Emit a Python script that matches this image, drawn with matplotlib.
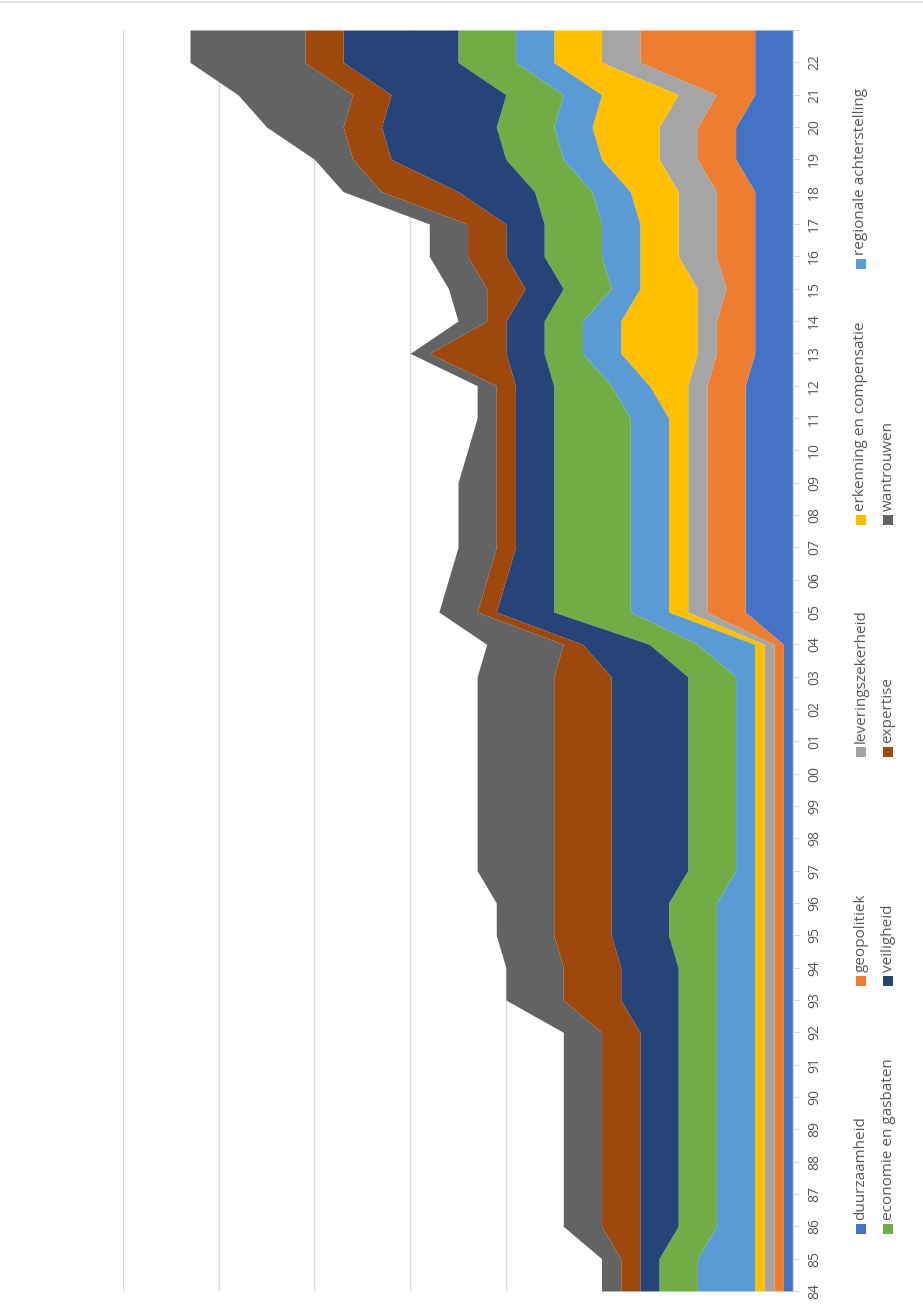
import matplotlib
matplotlib.use('Agg')
import matplotlib.pyplot as plt
from matplotlib.patches import Rectangle
from matplotlib.lines import Line2D
import numpy as np

plt.rcParams['font.family'] = ['Open Sans', 'DejaVu Sans']

# ---------------- data ----------------
years = ['84', '85', '86', '87', '88', '89', '90', '91', '92', '93', '94', '95', '96',
         '97', '98', '99', '00', '01', '02', '03', '04', '05', '06', '07', '08', '09',
         '10', '11', '12', '13', '14', '15', '16', '17', '18', '19', '20', '21', '22', '']

duurzaamheid = [1, 1, 1, 1, 1, 1, 1, 1, 1, 1, 1, 1, 1,
                1, 1, 1, 1, 1, 1, 1, 1, 5, 5, 5, 5, 5,
                5, 5, 5, 4, 4, 4, 4, 4, 4, 6, 6, 4, 4, 4]
geopolitiek = [1, 1, 1, 1, 1, 1, 1, 1, 1, 1, 1, 1, 1,
               1, 1, 1, 1, 1, 1, 1, 1, 4, 4, 4, 4, 4,
               4, 4, 4, 4, 4, 3, 4, 4, 4, 4, 4, 4, 12, 12]
leveringszekerheid = [1, 1, 1, 1, 1, 1, 1, 1, 1, 1, 1, 1, 1,
                      1, 1, 1, 1, 1, 1, 1, 1, 2, 2, 2, 2, 2,
                      2, 2, 2, 2, 2, 3, 4, 4, 4, 4, 4, 4, 4, 4]
erkenning = [1, 1, 1, 1, 1, 1, 1, 1, 1, 1, 1, 1, 1,
             1, 1, 1, 1, 1, 1, 1, 1, 2, 2, 2, 2, 2,
             2, 2, 4, 8, 8, 6, 4, 4, 5, 6, 7, 8, 5, 5]
regionale = [6, 6, 4, 4, 4, 4, 4, 4, 4, 4, 4, 4, 4,
             2, 2, 2, 2, 2, 2, 2, 6, 4, 4, 4, 4, 4,
             4, 4, 4, 4, 4, 3, 4, 4, 4, 4, 4, 4, 4, 4]
economie = [4, 4, 4, 4, 4, 4, 4, 4, 4, 4, 4, 5, 5,
            5, 5, 5, 5, 5, 5, 5, 5, 8, 8, 8, 8, 8,
            8, 8, 6, 4, 4, 5, 6, 6, 6, 6, 6, 6, 6, 6]
veiligheid = [2, 2, 4, 4, 4, 4, 4, 4, 4, 6, 6, 6, 6,
              8, 8, 8, 8, 8, 8, 8, 7, 6, 5, 4, 4, 4,
              4, 4, 4, 4, 4, 4, 4, 4, 8, 12, 12, 12, 12, 12]
expertise = [2, 2, 4, 4, 4, 4, 4, 4, 4, 6, 6, 6, 6,
             6, 6, 6, 6, 6, 6, 6, 2, 2, 2, 2, 2, 2,
             2, 2, 2, 8, 2, 4, 4, 4, 8, 4, 4, 4, 4, 4]
wantrouwen = [2, 2, 4, 4, 4, 4, 4, 4, 4, 6, 6, 6, 6,
              8, 8, 8, 8, 8, 8, 8, 8, 4, 4, 4, 4, 4,
              3, 2, 2, 2, 3, 4, 4, 4, 4, 4, 8, 12, 12, 12]

series_names = ['duurzaamheid', 'geopolitiek', 'leveringszekerheid',
                'erkenning en compensatie', 'regionale achterstelling',
                'economie en gasbaten', 'veiligheid', 'expertise', 'wantrouwen']
series_values = [duurzaamheid, geopolitiek, leveringszekerheid, erkenning, regionale,
                 economie, veiligheid, expertise, wantrouwen]
colors = ['#4472C4', '#ED7D31', '#A5A5A5', '#FFC000', '#5B9BD5',
          '#70AD47', '#264478', '#9E480E', '#636363']

# ---------------- figure ----------------
W, H = 923, 1316
fig = plt.figure(figsize=(W / 100, H / 100), dpi=100)
fig.patch.set_facecolor('white')

ax = fig.add_axes([123 / W, 1 - 1291 / H, (793 - 123) / W, (1291 - 30) / H])

pos = np.arange(len(years))
left = np.zeros(len(years))
for name, vals, col in zip(series_names, series_values, colors):
    right = left + np.asarray(vals, dtype=float)
    ax.fill_betweenx(pos, left, right, color=col, lw=0, label=name)
    left = right

ax.set_xlim(70, 0)
ax.set_ylim(0, len(years) - 1)

ax.set_xticks(np.arange(0, 71, 10))
ax.tick_params(axis='x', length=0, labelbottom=False)
ax.grid(axis='x', color='#D9D9D9', lw=1)
ax.set_axisbelow(True)

ax.set_yticks(pos)
ax.set_yticklabels(years)
ax.yaxis.tick_right()
ax.tick_params(axis='y', length=4, width=0.8, color='#D9D9D9', labelsize=10,
               labelcolor='#595959', pad=6)
for lab in ax.get_yticklabels():
    lab.set_rotation(90)
    lab.set_va('center')
    lab.set_ha('left')

for s in ['left', 'top', 'bottom']:
    ax.spines[s].set_visible(False)
ax.spines['right'].set_color('#D9D9D9')
ax.spines['right'].set_linewidth(1)

# ---------------- legend (rotated, drawn manually) ----------------
col_x = [861, 888]
row_y = [1229, 981, 752, 520, 264]
for i, (name, col) in enumerate(zip(series_names, colors)):
    xc = col_x[i // 5]
    yc = row_y[i % 5]
    fig.add_artist(Rectangle(((xc - 5) / W, 1 - (yc + 5) / H), 10 / W, 10 / H,
                             transform=fig.transFigure, facecolor=col, edgecolor='none'))
    fig.text(xc / W, 1 - (yc - 9) / H, name, rotation=90, ha='center', va='bottom',
             fontsize=11, color='#595959')

# thin chart-area border at the top
fig.add_artist(Line2D([0, 1], [1 - 1.5 / H, 1 - 1.5 / H], color='#D9D9D9', lw=1.2,
                      transform=fig.transFigure))

fig.savefig('out.png', dpi=100, facecolor='white')
